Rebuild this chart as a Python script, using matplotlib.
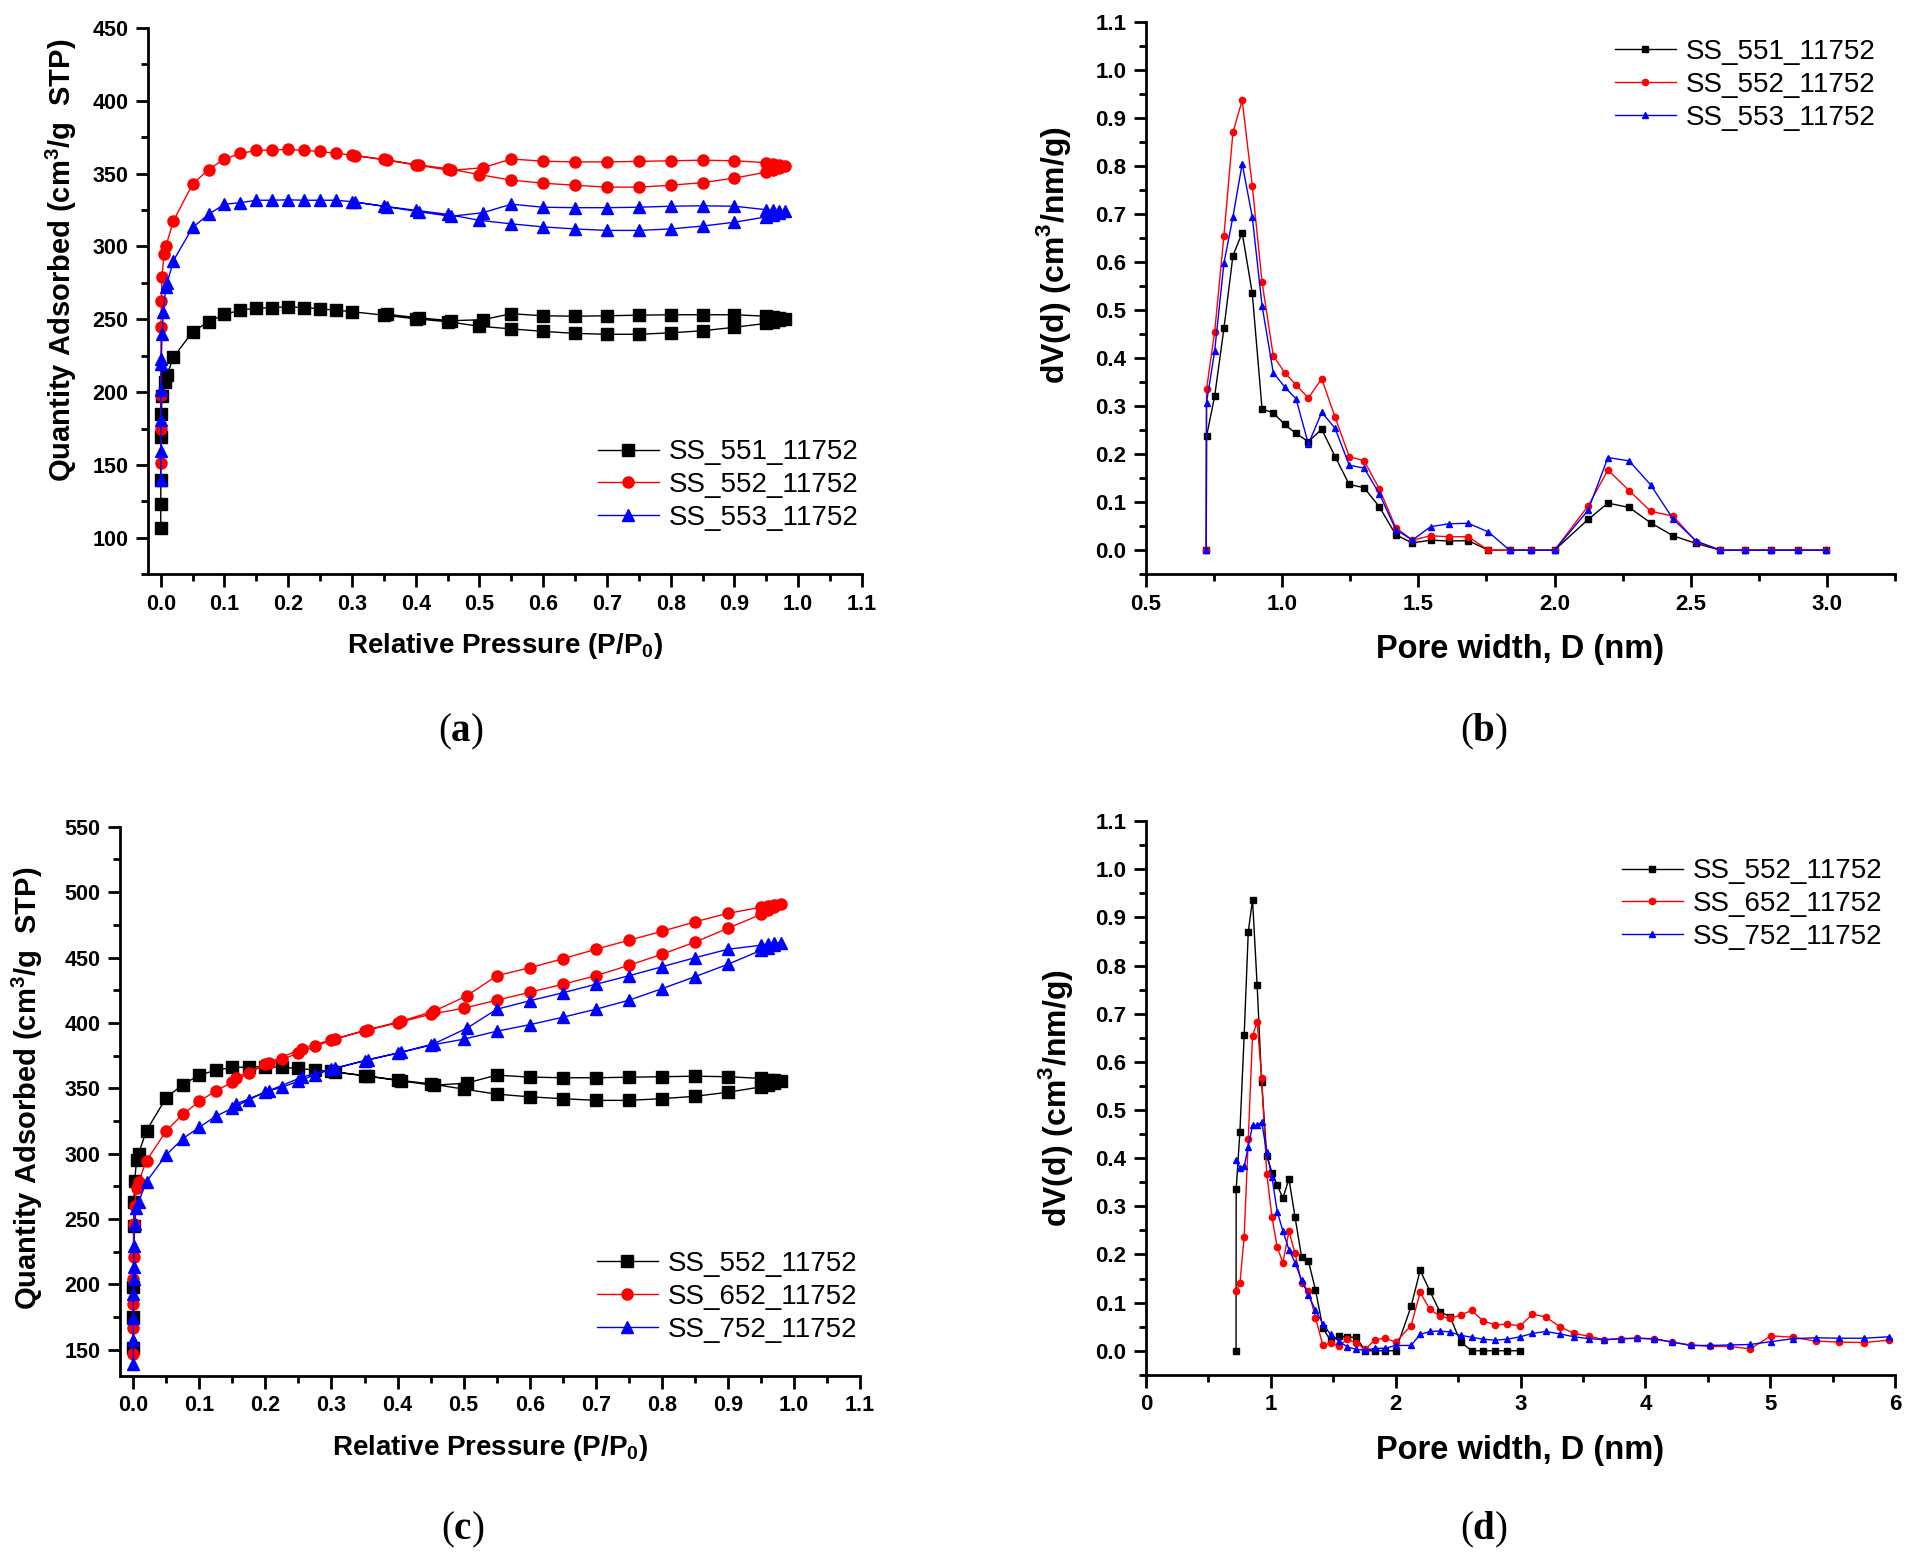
import matplotlib
matplotlib.use("Agg")
import matplotlib.pyplot as plt
from matplotlib.ticker import MultipleLocator, AutoMinorLocator

plt.rcParams['font.family'] = ['Liberation Sans', 'DejaVu Sans']
plt.rcParams['font.weight'] = 'bold'
plt.rcParams['axes.labelweight'] = 'bold'
plt.rcParams['mathtext.fontset'] = 'custom'
plt.rcParams['mathtext.rm'] = 'Liberation Serif:weight=normal'
plt.rcParams['mathtext.bf'] = 'Liberation Serif:weight=bold'
plt.rcParams['mathtext.sf'] = 'Liberation Sans:weight=bold'

# ---------------- isotherms (a): SS_551 / 552 / 553 ----------------
p_ads_551 = [0.00001, 0.00003, 0.0001, 0.0004, 0.001, 0.002, 0.007, 0.01, 0.02, 0.05,
             0.075, 0.1, 0.125, 0.15, 0.175, 0.2, 0.225, 0.25, 0.275, 0.3, 0.35, 0.4, 0.45,
             0.5, 0.55, 0.6, 0.65, 0.7, 0.75, 0.8, 0.85, 0.9, 0.95, 0.96, 0.97, 0.98]
q_ads_551 = [107, 123, 140, 169, 185, 197, 207, 212, 224, 241.4,
             248.3, 253.4, 256.2, 257.6, 258, 258.6, 258, 257.2, 256.2, 255.2, 252.8, 250.3, 248.3,
             245.2, 243.4, 241.7, 240.3, 239.7, 239.7, 240.7, 242.1, 244.5, 247.2, 248.3, 249.3, 250.3]
p_des_551 = [0.97, 0.96, 0.95, 0.9, 0.85, 0.8, 0.75, 0.7, 0.65, 0.6, 0.55, 0.505, 0.455, 0.405, 0.355]
q_des_551 = [251, 251.6, 252.1, 253.1, 253.1, 253.1, 252.8, 252.4, 252.1, 252.4, 253.8, 249.7, 249, 251, 253.4]

p_ads_552 = [0.00001, 0.00003, 0.0001, 0.0004, 0.001, 0.002, 0.005, 0.008, 0.02, 0.05,
             0.075, 0.1, 0.125, 0.15, 0.175, 0.2, 0.225, 0.25, 0.275, 0.3, 0.35, 0.4, 0.45,
             0.5, 0.55, 0.6, 0.65, 0.7, 0.75, 0.8, 0.85, 0.9, 0.95, 0.96, 0.97, 0.98]
q_ads_552 = [151.4, 175, 198, 244.8, 262.8, 279, 294.8, 300, 317.6, 342.8,
             352.8, 360, 363.8, 365.9, 366.2, 366.6, 365.9, 365.2, 363.8, 362.8, 359.7, 356.2, 353.4,
             349.3, 345.5, 343.4, 342, 340.7, 340.7, 342, 343.8, 346.9, 351, 352.5, 354, 355.5]
p_des_552 = [0.97, 0.96, 0.95, 0.9, 0.85, 0.8, 0.75, 0.7, 0.65, 0.6, 0.55, 0.505, 0.455, 0.405, 0.355, 0.305]
q_des_552 = [356, 356.5, 357.5, 358.8, 359.2, 358.8, 358.4, 358, 358, 358.5, 360, 354, 352.2, 355.6, 359.2, 362.3]

p_ads_553 = [0.00001, 0.00003, 0.0001, 0.0003, 0.0006, 0.001, 0.002, 0.004, 0.008, 0.01, 0.02, 0.05,
             0.075, 0.1, 0.125, 0.15, 0.175, 0.2, 0.225, 0.25, 0.275, 0.3, 0.35, 0.4, 0.45,
             0.5, 0.55, 0.6, 0.65, 0.7, 0.75, 0.8, 0.85, 0.9, 0.95, 0.96, 0.97, 0.98]
q_ads_553 = [139.7, 159.3, 180.7, 201.4, 219.6, 223, 239.7, 254.8, 272.4, 274.8, 290.3, 313,
             322, 329, 330, 331.7, 331.7, 332, 331.7, 331.7, 331.7, 330.7, 327.6, 324.8, 322,
             317.9, 315.5, 313.4, 312, 311, 311, 312, 314, 316.6, 320.3, 321.5, 322.8, 324.1]
p_des_553 = [0.97, 0.96, 0.95, 0.9, 0.85, 0.8, 0.75, 0.7, 0.65, 0.6, 0.55, 0.505, 0.455, 0.405, 0.355, 0.305]
q_des_553 = [324.5, 324.9, 325.2, 327.6, 327.9, 327.6, 326.9, 326.6, 326.6, 326.9, 329, 323.1, 320.7, 323.8, 327.2, 330.5]

# ---------------- isotherms (c): SS_652 / 752 (552 reused) ----------------
p_ads_652 = [0.00001, 0.00003, 0.0001, 0.0003, 0.0006, 0.001, 0.002, 0.005, 0.008, 0.02, 0.05,
             0.075, 0.1, 0.125, 0.15, 0.175, 0.2, 0.225, 0.25, 0.275, 0.3, 0.35, 0.4, 0.45,
             0.5, 0.55, 0.6, 0.65, 0.7, 0.75, 0.8, 0.85, 0.9, 0.95, 0.96, 0.97, 0.98]
q_ads_652 = [146.6, 166.8, 184.8, 204, 221, 246, 260, 273.5, 278.5, 294.5, 317.5,
             330, 340, 348, 354.6, 361.5, 368.4, 372, 377, 382, 386.7, 394, 400, 406.6,
             411.2, 417.3, 423.4, 429.5, 436, 444, 452.5, 461.7, 472.4, 483, 486, 488.5, 490.7]
p_des_652 = [0.97, 0.96, 0.95, 0.9, 0.85, 0.8, 0.75, 0.7, 0.65, 0.6, 0.55, 0.505, 0.455,
             0.405, 0.355, 0.305, 0.255, 0.205, 0.155]
q_des_652 = [490.2, 489.6, 488.4, 483.8, 477.3, 470, 463.2, 456.3, 449, 442.2, 436, 420.7, 408.9,
             401.2, 394.7, 387.9, 380.2, 369.5, 358]

p_ads_752 = [0.00001, 0.00003, 0.0001, 0.0002, 0.0004, 0.0006, 0.001, 0.002, 0.004, 0.008, 0.02, 0.05,
             0.075, 0.1, 0.125, 0.15, 0.175, 0.2, 0.225, 0.25, 0.275, 0.3, 0.35, 0.4, 0.45,
             0.5, 0.55, 0.6, 0.65, 0.7, 0.75, 0.8, 0.85, 0.9, 0.95, 0.96, 0.97, 0.98]
q_ads_752 = [139, 157.3, 174, 192.4, 204, 213, 229, 246, 258, 263.2, 278.5, 299.1,
             311.4, 320.2, 328.6, 334.7, 341.2, 347.3, 350.8, 355.4, 360.3, 364.5, 371, 376.8, 382.9,
             387.5, 393.6, 398.6, 404.3, 410.4, 417.3, 426.1, 435.3, 444.8, 455.5, 457.5, 459.5, 461.3]
p_des_752 = p_des_652
q_des_752 = [461, 460.5, 459.4, 456.3, 449.8, 442.9, 436, 429.5, 423, 416.9, 410.4, 395.9, 384,
             377.5, 371.8, 365.3, 358.4, 348, 337.8]

# ---------------- pore size distributions ----------------
d_b = [0.721, 0.722, 0.752, 0.786, 0.819, 0.853, 0.89, 0.926, 0.967, 1.009, 1.051, 1.096,
       1.145, 1.194, 1.246, 1.301, 1.357, 1.417, 1.478, 1.545, 1.612, 1.683, 1.757, 1.835,
       1.915, 2.0, 2.123, 2.196, 2.274, 2.353, 2.435, 2.52, 2.609, 2.699, 2.795, 2.893, 2.998]
dv_551 = [0, 0.237, 0.321, 0.462, 0.613, 0.661, 0.535, 0.294, 0.286, 0.262, 0.243, 0.226,
          0.252, 0.195, 0.137, 0.130, 0.090, 0.032, 0.015, 0.021, 0.019, 0.020, 0, 0,
          0, 0, 0.064, 0.098, 0.089, 0.057, 0.030, 0.014, 0, 0, 0, 0, 0]
dv_552 = [0, 0.335, 0.455, 0.655, 0.870, 0.937, 0.759, 0.558, 0.405, 0.370, 0.344, 0.317,
          0.357, 0.277, 0.195, 0.186, 0.127, 0.047, 0.021, 0.030, 0.028, 0.028, 0, 0,
          0, 0, 0.092, 0.167, 0.124, 0.081, 0.071, 0.018, 0, 0, 0, 0, 0]
dv_553 = [0, 0.307, 0.415, 0.598, 0.694, 0.805, 0.694, 0.509, 0.370, 0.340, 0.315, 0.221,
          0.287, 0.254, 0.177, 0.171, 0.117, 0.043, 0.021, 0.049, 0.055, 0.056, 0.038, 0,
          0, 0, 0.083, 0.193, 0.186, 0.136, 0.065, 0.019, 0, 0, 0, 0, 0]

d_d = [0.722, 0.752, 0.786, 0.819, 0.853, 0.89, 0.926, 0.967, 1.009, 1.051, 1.096, 1.145,
       1.194, 1.246, 1.301, 1.357, 1.417, 1.478, 1.545, 1.612, 1.683, 1.757, 1.835, 1.915,
       2.0, 2.123, 2.196, 2.274, 2.353, 2.435, 2.52, 2.609, 2.699, 2.795, 2.893, 2.998,
       3.095, 3.203, 3.315, 3.428, 3.55, 3.672, 3.804, 3.936, 4.073, 4.215, 4.362, 4.518,
       4.675, 4.841, 5.007, 5.183, 5.364, 5.555, 5.751, 5.951]
dv_652 = [0.124, 0.14, 0.237, 0.440, 0.654, 0.683, 0.567, 0.368, 0.277, 0.215, 0.183, 0.248,
          0.202, 0.14, 0.125, 0.069, 0.011, 0.016, 0.010, 0.024, 0.016, 0.003, 0.023, 0.026,
          0.018, 0.052, 0.121, 0.086, 0.072, 0.067, 0.074, 0.084, 0.062, 0.054, 0.055, 0.052,
          0.076, 0.070, 0.050, 0.036, 0.030, 0.023, 0.025, 0.026, 0.024, 0.018, 0.012, 0.009,
          0.009, 0.004, 0.031, 0.028, 0.020, 0.018, 0.017, 0.022]
dv_752 = [0.396, 0.380, 0.383, 0.424, 0.468, 0.468, 0.475, 0.412, 0.36, 0.289, 0.249, 0.210,
          0.183, 0.146, 0.116, 0.084, 0.056, 0.034, 0.020, 0.008, 0.003, 0.001, 0.005, 0.005,
          0.011, 0.011, 0.034, 0.040, 0.041, 0.039, 0.032, 0.028, 0.024, 0.022, 0.024, 0.029,
          0.036, 0.040, 0.035, 0.029, 0.025, 0.023, 0.025, 0.026, 0.025, 0.018, 0.011, 0.011,
          0.012, 0.013, 0.019, 0.025, 0.027, 0.026, 0.026, 0.029]

LEG_FS = 20


def style_axis(ax, fs):
    for s in ['top', 'right']:
        ax.spines[s].set_visible(False)
    for s in ['left', 'bottom']:
        ax.spines[s].set_linewidth(2)
    ax.tick_params(which='major', direction='out', length=9, width=2, labelsize=fs, pad=5)
    ax.tick_params(which='minor', direction='out', length=5, width=2)


def iso(ax, pa, qa, pd, qd, color, marker, label):
    ax.plot(list(pa) + list(pd), list(qa) + list(qd), color=color, marker=marker, ms=8,
            lw=1, mec=color, mfc=color, label=label)


def psd(ax, d, dv, color, marker, label):
    ax.plot(d, dv, color=color, marker=marker, ms=4.5, lw=1, mec=color, mfc=color, label=label)


fig = plt.figure(figsize=(19.12, 15.68), dpi=100)
ax_a = fig.add_axes([0.0774, 0.6338, 0.3734, 0.3484])
ax_b = fig.add_axes([0.5994, 0.6338, 0.3917, 0.3522])
ax_c = fig.add_axes([0.0628, 0.1226, 0.3870, 0.3501])
ax_d = fig.add_axes([0.5994, 0.1232, 0.3917, 0.3531])

# (a)
iso(ax_a, p_ads_551, q_ads_551, p_des_551, q_des_551, 'black', 's', 'SS_551_11752')
iso(ax_a, p_ads_552, q_ads_552, p_des_552, q_des_552, 'red', 'o', 'SS_552_11752')
iso(ax_a, p_ads_553, q_ads_553, p_des_553, q_des_553, 'blue', '^', 'SS_553_11752')
ax_a.set_xlim(-0.02, 1.1)
ax_a.set_ylim(75, 450)

# (c)
iso(ax_c, p_ads_552, q_ads_552, p_des_552, q_des_552, 'black', 's', 'SS_552_11752')
iso(ax_c, p_ads_652, q_ads_652, p_des_652, q_des_652, 'red', 'o', 'SS_652_11752')
iso(ax_c, p_ads_752, q_ads_752, p_des_752, q_des_752, 'blue', '^', 'SS_752_11752')
ax_c.set_xlim(-0.02, 1.1)
ax_c.set_ylim(130, 550)

for ax, lc in ((ax_a, (-0.097, 0.574)), (ax_c, (-0.102, 0.524))):
    ax.xaxis.set_major_locator(MultipleLocator(0.1))
    ax.xaxis.set_minor_locator(AutoMinorLocator(2))
    ax.yaxis.set_major_locator(MultipleLocator(50))
    ax.yaxis.set_minor_locator(AutoMinorLocator(2))
    ax.xaxis.set_major_formatter(lambda v, pos: f'{v:.1f}')
    style_axis(ax, 15.5)
    ax.set_xlabel('Relative Pressure (P/P$_{\\mathsf{0}}$)', fontsize=20, labelpad=12)
    ax.set_ylabel('Quantity Adsorbed (cm$^{\\mathsf{3}}$/g  STP)', fontsize=21)
    ax.yaxis.set_label_coords(*lc)

# (b)
psd(ax_b, d_b, dv_551, 'black', 's', 'SS_551_11752')
psd(ax_b, d_b, dv_552, 'red', 'o', 'SS_552_11752')
psd(ax_b, d_b, dv_553, 'blue', '^', 'SS_553_11752')
ax_b.set_xlim(0.5, 3.25)
ax_b.xaxis.set_major_locator(MultipleLocator(0.5))
ax_b.xaxis.set_minor_locator(AutoMinorLocator(2))
ax_b.xaxis.set_major_formatter(lambda v, pos: f'{v:.1f}')

# (d)
psd(ax_d, d_b, dv_552, 'black', 's', 'SS_552_11752')
psd(ax_d, d_d, dv_652, 'red', 'o', 'SS_652_11752')
psd(ax_d, d_d, dv_752, 'blue', '^', 'SS_752_11752')
ax_d.set_xlim(0, 6)
ax_d.xaxis.set_major_locator(MultipleLocator(1))
ax_d.xaxis.set_minor_locator(AutoMinorLocator(2))

for ax, lc in ((ax_b, (-0.097, 0.577)), (ax_d, (-0.095, 0.50))):
    ax.set_ylim(-0.05, 1.1)
    ax.yaxis.set_major_locator(MultipleLocator(0.1))
    ax.yaxis.set_minor_locator(AutoMinorLocator(2))
    ax.yaxis.set_major_formatter(lambda v, pos: f'{v:.1f}')
    style_axis(ax, 16)
    ax.set_xlabel('Pore width, D (nm)', fontsize=23.5, labelpad=14)
    ax.set_ylabel('dV(d) (cm$^{\\mathsf{3}}$/nm/g)', fontsize=23)
    ax.yaxis.set_label_coords(*lc)

leg_kw = dict(frameon=False, handlelength=2.2, handletextpad=0.35,
              labelspacing=0.25, borderpad=0, borderaxespad=0, loc='upper left',
              prop={'size': LEG_FS, 'weight': 'normal'})
ax_a.legend(bbox_to_anchor=(0.63, 0.247), **leg_kw)
ax_b.legend(bbox_to_anchor=(0.626, 0.969), **leg_kw)
ax_c.legend(bbox_to_anchor=(0.644, 0.227), **leg_kw)
ax_d.legend(bbox_to_anchor=(0.635, 0.933), **leg_kw)

# captions
for x, y, letter in [(0.241, 0.533, 'a'), (0.776, 0.533, 'b'),
                     (0.242, 0.024, 'c'), (0.776, 0.024, 'd')]:
    fig.text(x, y, '$\\mathrm{(}\\mathbf{%s}\\mathrm{)}$' % letter, fontsize=28,
             ha='center', va='center')

fig.savefig('out.png', dpi=100)
